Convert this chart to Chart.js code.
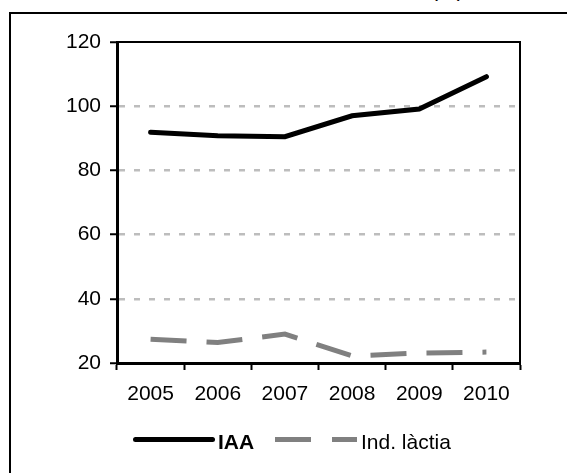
<!DOCTYPE html>
<html>
<head>
<meta charset="utf-8">
<script src="https://cdn.jsdelivr.net/npm/chart.js@4"></script>
<style>
    html, body { margin: 0; padding: 0; background: #fff; overflow: hidden; }
    body { width: 567px; height: 473px; position: relative; font-family: 'Liberation Sans', Arial, sans-serif; }
    #frame { position: absolute; left: 9px; top: 12px; width: 700px; height: 700px; border: 2px solid #000; box-sizing: border-box; }
    #chart { position: absolute; left: 0; top: 0; }
    .txt { position: absolute; font-size: 21px; line-height: 21px; color: #000; white-space: nowrap; }
    .swatch { position: absolute; height: 5px; }
</style>
</head>
<body>
<div id="frame"></div>
<div class="txt" style="left:431px; top:-21px;">(%)</div>
<canvas id="chart" width="567" height="473"></canvas>

<!-- llegenda -->
<div class="swatch" style="left:133px; top:437px; width:82px; background:#000; border-radius:3px;"></div>
<div class="txt" style="left:218px; top:431px; font-weight:bold;">IAA</div>
<div class="swatch" style="left:275px; top:437px; width:36px; background:#808080;"></div>
<div class="swatch" style="left:332px; top:437px; width:25px; background:#808080;"></div>
<div class="txt" style="left:361px; top:431px;">Ind. làctia</div>

<script>
// ================================
// Dades
// ================================
const years = ['2005', '2006', '2007', '2008', '2009', '2010'];
const iaa = [91.9, 90.8, 90.5, 97.0, 99.1, 109.2];
const lactia = [27.4, 26.4, 29.0, 22.2, 23.1, 23.4];
const yTicks = { min: 20, max: 120, step: 20 };

const font = { family: "'Liberation Sans', Arial, sans-serif", size: 21 };

// vora superior i dreta de l'area del grafic
const frameBorder = {
    id: 'frameBorder',
    afterDraw(chart) {
        const { ctx, chartArea: a } = chart;
        ctx.save();
        ctx.strokeStyle = '#000';
        ctx.lineWidth = 2;
        ctx.beginPath();
        ctx.moveTo(a.left, a.top);
        ctx.lineTo(a.right, a.top);
        ctx.lineTo(a.right, a.bottom);
        ctx.stroke();
        ctx.restore();
    }
};

new Chart(document.getElementById('chart'), {
    type: 'line',
    data: {
        labels: years,
        datasets: [
            {
                label: 'IAA',
                data: iaa,
                borderColor: '#000',
                borderWidth: 5,
                borderCapStyle: 'round',
                pointRadius: 0,
                tension: 0
            },
            {
                label: 'Ind. làctia',
                data: lactia,
                borderColor: '#808080',
                borderWidth: 5,
                borderDash: [36, 20],
                pointRadius: 0,
                tension: 0
            }
        ]
    },
    options: {
        responsive: false,
        animation: false,
        layout: { padding: { top: 42, right: 47, left: 0, bottom: 70 } },
        plugins: {
            legend: { display: false },
            tooltip: { enabled: false }
        },
        scales: {
            x: {
                offset: true,
                afterFit: (s) => { s.height = 40; },
                grid: {
                    offset: true,
                    drawOnChartArea: false,
                    drawTicks: true,
                    tickLength: 7,
                    tickColor: '#000',
                    tickWidth: 2
                },
                border: { display: true, color: '#000', width: 3 },
                ticks: { color: '#000', font: font, padding: 12, maxRotation: 0 }
            },
            y: {
                min: yTicks.min,
                max: yTicks.max,
                afterFit: (s) => { s.width = 117; },
                grid: {
                    color: (c) => (c.tick && (c.tick.value === yTicks.min || c.tick.value === yTicks.max)) ? 'rgba(0,0,0,0)' : '#bdbdbd',
                    lineWidth: 2.5,
                    drawTicks: true,
                    tickLength: 7,
                    tickColor: '#000',
                    tickWidth: 2
                },
                border: { display: true, color: '#000', width: 3, dash: [6, 9] },
                ticks: { stepSize: yTicks.step, color: '#000', font: font, padding: 9 }
            }
        }
    },
    plugins: [frameBorder]
});
</script>
</body>
</html>
